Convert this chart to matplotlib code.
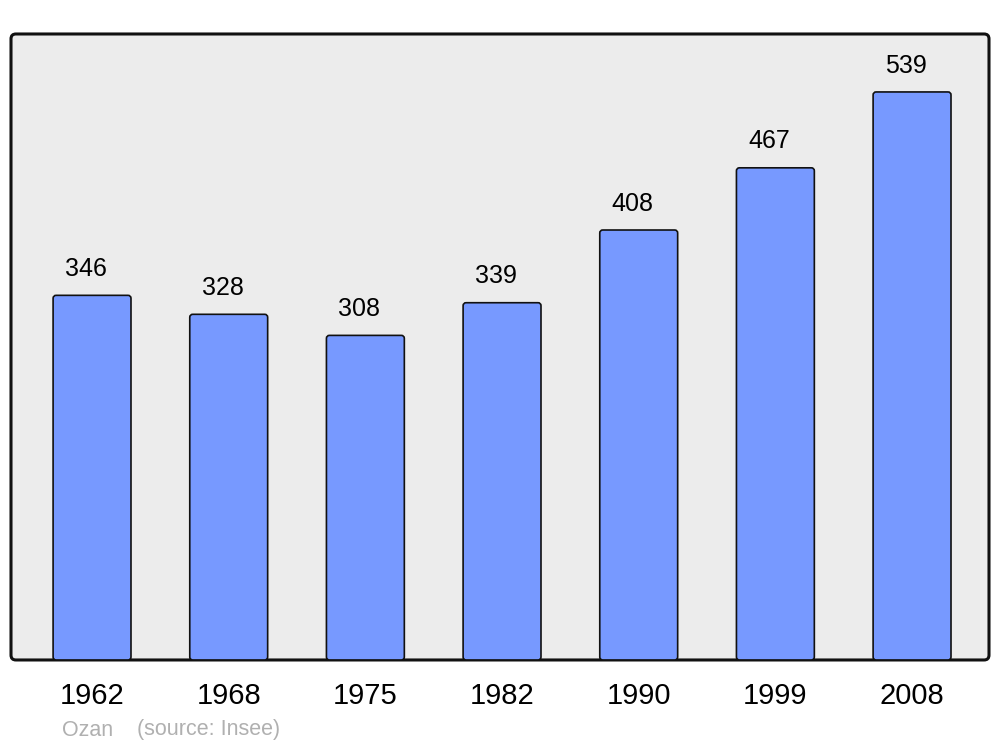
import matplotlib.pyplot as plt
from matplotlib.patches import FancyBboxPatch

years = ['1962', '1968', '1975', '1982', '1990', '1999', '2008']
population = [346, 328, 308, 339, 408, 467, 539]

plt.rcParams['font.family'] = ['Liberation Sans', 'DejaVu Sans']

fig = plt.figure(figsize=(10, 7.47), dpi=100)
ax = fig.add_axes([0.011, 0.1165, 0.978, 0.838])
ax.patch.set_visible(False)
for s in ax.spines.values():
    s.set_visible(False)

ax.set_xlim(-0.593, 6.563)
ax.set_ylim(0, 594)

# rounded frame with grey background
frame = FancyBboxPatch((0, 0), 1, 1, boxstyle="round,pad=0,rounding_size=0.005",
                       mutation_aspect=978 / 626, transform=ax.transAxes,
                       facecolor='#ececec', edgecolor='#111111', linewidth=2.2,
                       clip_on=False, zorder=0)
ax.add_patch(frame)

width = 0.57
px_x = 978 / (ax.get_xlim()[1] - ax.get_xlim()[0])
px_y = 626 / (ax.get_ylim()[1] - ax.get_ylim()[0])
for i, v in enumerate(population):
    bar = FancyBboxPatch((i - width / 2, 0), width, v,
                         boxstyle="round,pad=0,rounding_size=%f" % (3 / px_x),
                         mutation_aspect=px_x / px_y,
                         facecolor='#7799ff', edgecolor='#111111', linewidth=1.2, zorder=2)
    ax.add_patch(bar)
    ax.annotate(str(v), (i - 0.045, v), xytext=(0, 14), textcoords='offset points',
                ha='center', va='baseline', fontsize=18, color='black')

ax.set_xticks(range(len(years)))
ax.set_xticklabels(years, fontsize=21)
ax.tick_params(axis='x', length=0, pad=16)
ax.set_yticks([])

fig.text(0.062, 1 - 730 / 747, 'Ozan', fontsize=15.5, color='#b0b0b0', va='center', ha='left')
fig.text(0.137, 1 - 730 / 747, '(source: Insee)', fontsize=15.5, color='#b0b0b0', va='center', ha='left')

fig.savefig('out.png', dpi=100)
